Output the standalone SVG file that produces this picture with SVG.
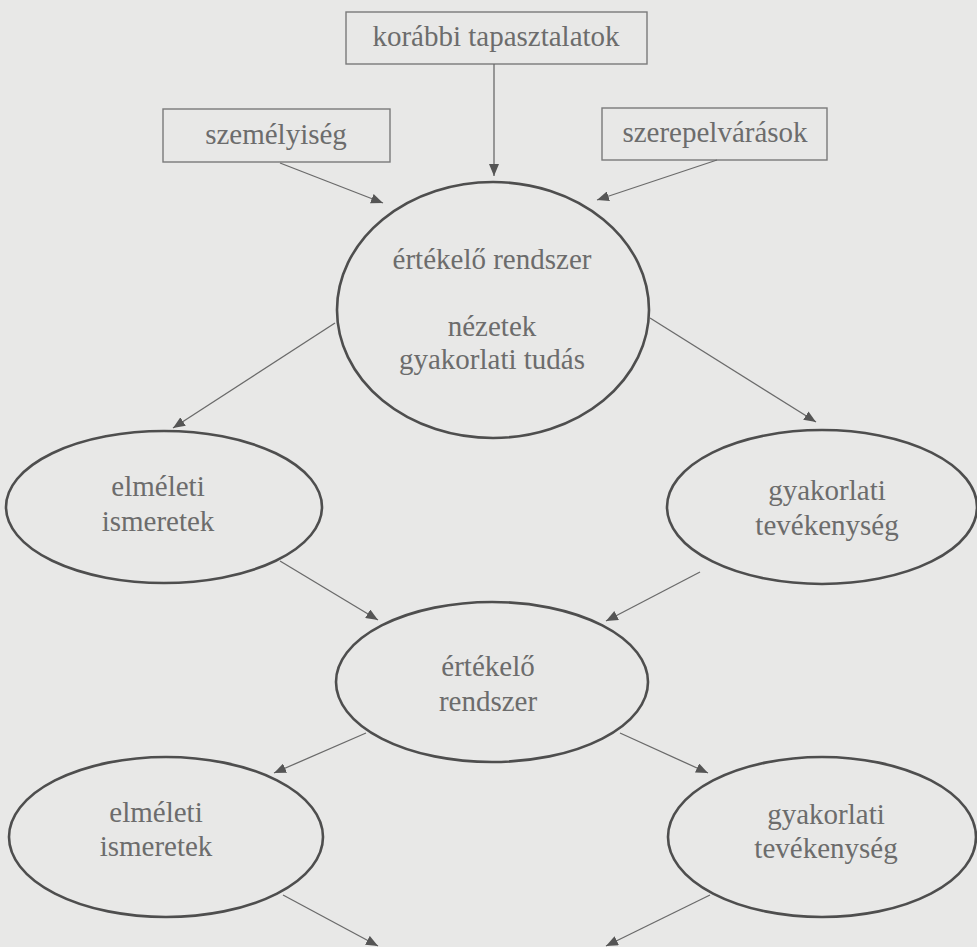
<svg xmlns="http://www.w3.org/2000/svg" width="977" height="947" viewBox="0 0 977 947">
<style>
.box{fill:none;stroke:#7a7a7a;stroke-width:1.4}
.ell{fill:none;stroke:#4e4e4e;stroke-width:2.6}
.t{font-family:"Liberation Serif","Times New Roman",serif;font-size:29px;fill:#6c6c6c;text-anchor:middle}
.c{stroke:#6a6a6a;stroke-width:1.3;fill:none;marker-end:url(#ah)}
</style>
<defs>
<marker id="ah" markerUnits="userSpaceOnUse" markerWidth="14" markerHeight="10" refX="12" refY="5" orient="auto">
<path d="M0,0 L12,5 L0,10 Z" fill="#555"/>
</marker>
</defs>
<rect width="977" height="947" fill="#e8e8e7"/>
<g id="korabbi"><rect class="box" x="346" y="12" width="301" height="52"/><text class="t" x="496" y="46">korábbi tapasztalatok</text></g>
<g id="szemelyiseg"><rect class="box" x="163" y="109" width="227" height="53"/><text class="t" x="276" y="144">személyiség</text></g>
<g id="szerepelvarasok"><rect class="box" x="602" y="108" width="225" height="52"/><text class="t" x="715" y="142">szerepelvárások</text></g>
<g id="ertekelo1"><ellipse class="ell" cx="493" cy="310" rx="156" ry="128"/><text class="t" x="492" y="269">értékelő rendszer</text><text class="t" x="492" y="336">nézetek</text><text class="t" x="492" y="369">gyakorlati tudás</text></g>
<g id="elmeleti1"><ellipse class="ell" cx="164" cy="507" rx="158" ry="76"/><text class="t" x="158" y="496">elméleti</text><text class="t" x="158" y="531">ismeretek</text></g>
<g id="gyakorlati1"><ellipse class="ell" cx="822" cy="507" rx="155" ry="77"/><text class="t" x="827" y="500">gyakorlati</text><text class="t" x="827" y="535">tevékenység</text></g>
<g id="ertekelo2"><ellipse class="ell" cx="492" cy="682" rx="156" ry="80"/><text class="t" x="488" y="676">értékelő</text><text class="t" x="488" y="711">rendszer</text></g>
<g id="elmeleti2"><ellipse class="ell" cx="166" cy="837" rx="157" ry="80"/><text class="t" x="156" y="822">elméleti</text><text class="t" x="156" y="856">ismeretek</text></g>
<g id="gyakorlati2"><ellipse class="ell" cx="822" cy="837" rx="154" ry="80"/><text class="t" x="826" y="824">gyakorlati</text><text class="t" x="826" y="858">tevékenység</text></g>
<g id="connectors">
<line class="c" x1="494" y1="64" x2="494" y2="176"/>
<line class="c" x1="280" y1="163" x2="383" y2="203"/>
<line class="c" x1="717" y1="160" x2="597" y2="200"/>
<line class="c" x1="335" y1="323" x2="173" y2="428"/>
<line class="c" x1="650" y1="318" x2="816" y2="422"/>
<line class="c" x1="280" y1="561" x2="378" y2="620"/>
<line class="c" x1="700" y1="572" x2="606" y2="621"/>
<line class="c" x1="366" y1="733" x2="274" y2="773"/>
<line class="c" x1="620" y1="733" x2="708" y2="773"/>
<line class="c" x1="283" y1="895" x2="378" y2="946"/>
<line class="c" x1="710" y1="895" x2="606" y2="946"/>
</g>
</svg>
